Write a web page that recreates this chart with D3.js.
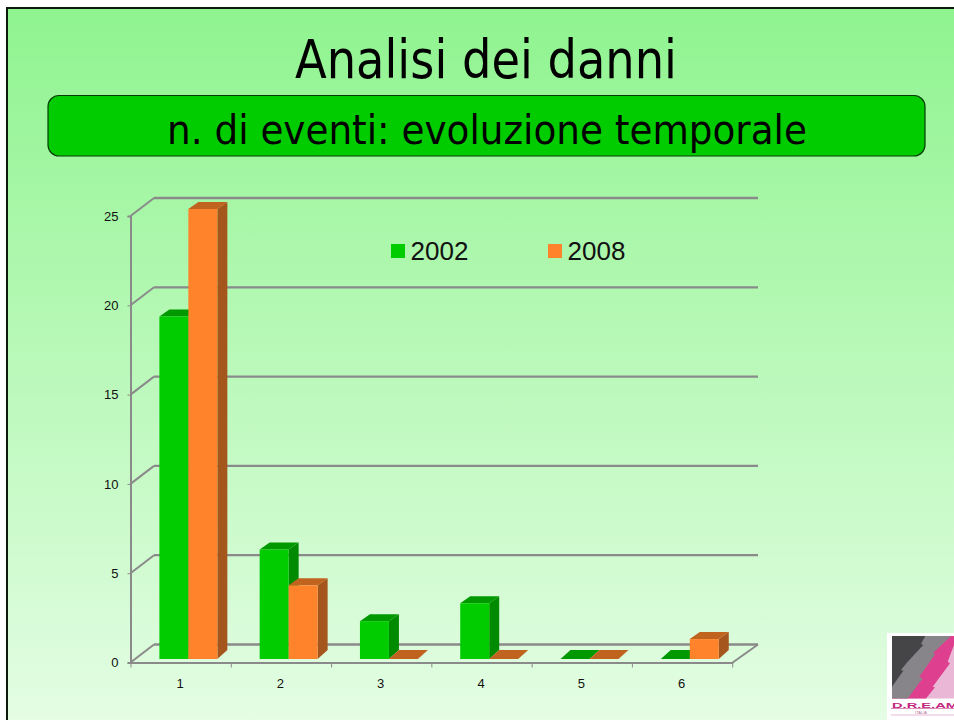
<!DOCTYPE html>
<html>
<head>
<meta charset="utf-8">
<script src="https://cdn.jsdelivr.net/npm/d3@7"></script>
<style>
  html, body { margin: 0; padding: 0; background: #fff; overflow: hidden; }
  svg { display: block; }
  .tick text { font-family: "Liberation Sans", sans-serif; font-size: 13px; fill: #111; }
</style>
</head>
<body>
<div id="chart"></div>
<script>
// chart data
var categories = ["1", "2", "3", "4", "5", "6"];
var seriesNames = ["2002", "2008"];
var values2002 = [19, 6, 2, 3, 0, 0];
var values2008 = [25, 4, 0, 0, 0, 1];
var yTicks = [0, 5, 10, 15, 20, 25];
var titleText = "Analisi dei danni";
var subtitleText = "n. di eventi: evoluzione temporale";

var colors = {
  "2002": { front: "#00cc00", top: "#009a00", side: "#008a00" },
  "2008": { front: "#ff832a", top: "#c0631f", side: "#a5561c" }
};
var gridColor = "#8a8a8a";

var svg = d3.select("#chart").append("svg")
  .attr("width", 954)
  .attr("height", 720);

// slide background
var grad = svg.append("defs").append("linearGradient")
  .attr("id", "bg")
  .attr("x1", 0).attr("y1", 0).attr("x2", 0).attr("y2", 1);
grad.append("stop").attr("offset", "0%").attr("stop-color", "#8ff48f");
grad.append("stop").attr("offset", "100%").attr("stop-color", "#e6fde6");

svg.append("rect")
  .attr("x", 7).attr("y", 8)
  .attr("width", 960).attr("height", 730)
  .attr("fill", "url(#bg)")
  .attr("stroke", "#0c1a0c")
  .attr("stroke-width", 2);

// title and subtitle box
svg.append("text")
  .attr("x", 486).attr("y", 77.5)
  .attr("text-anchor", "middle")
  .attr("textLength", 382)
  .attr("lengthAdjust", "spacingAndGlyphs")
  .style("font-family", "'DejaVu Sans Condensed', 'DejaVu Sans', sans-serif")
  .style("font-stretch", "condensed")
  .style("font-size", "54px")
  .text(titleText);

svg.append("rect")
  .attr("x", 48).attr("y", 95.5)
  .attr("width", 877).attr("height", 60.5)
  .attr("rx", 11)
  .attr("fill", "#00cc00")
  .attr("stroke", "#063d06")
  .attr("stroke-width", 1.2);

svg.append("text")
  .attr("x", 487).attr("y", 143.5)
  .attr("text-anchor", "middle")
  .style("font-family", "'DejaVu Sans Condensed', 'DejaVu Sans', sans-serif")
  .style("font-stretch", "condensed")
  .style("font-size", "41.5px")
  .text(subtitleText);

// scales: y is the front axis, yBar the bars which stand a bit inside the floor
var x = d3.scaleBand().domain(categories).range([131, 732.7]);
var y = d3.scaleLinear().domain([0, 25]).range([662.5, 216]);
var yBar = d3.scaleLinear().domain([0, 25]).range([657, 209]);
var floorY = 659;
var xSeries = d3.scaleBand().domain(seriesNames)
  .range([x.step() * 0.283, x.step() * 0.861]);

var wallDx = 24, wallDy = -18;
var barDx = 10, barTopDy = 7, baseDy = 9;

function barTop(d) { return d.v > 0 ? yBar(d.v) : floorY; }

// back wall grid lines and left wall steps
var grid = svg.append("g");
grid.selectAll("line.back")
  .data(yTicks)
  .enter().append("line")
  .attr("class", "back")
  .attr("x1", 130 + wallDx)
  .attr("x2", 758)
  .attr("y1", function(d) { return y(d) + wallDy; })
  .attr("y2", function(d) { return y(d) + wallDy; })
  .attr("stroke", gridColor)
  .attr("stroke-width", 2.3);

grid.selectAll("line.side")
  .data(yTicks)
  .enter().append("line")
  .attr("class", "side")
  .attr("x1", 130.5)
  .attr("x2", 130 + wallDx)
  .attr("y1", function(d) { return y(d); })
  .attr("y2", function(d) { return y(d) + wallDy; })
  .attr("stroke", gridColor)
  .attr("stroke-width", 2);

// right edge of the floor
grid.append("line")
  .attr("x1", 732.7).attr("y1", y(0))
  .attr("x2", 758).attr("y2", y(0) + wallDy)
  .attr("stroke", gridColor)
  .attr("stroke-width", 2);

// axes
var yAxis = d3.axisLeft(y).tickValues(yTicks).tickSize(3).tickPadding(9);
var gy = svg.append("g").attr("transform", "translate(130.5,0)").call(yAxis);
gy.select(".domain").attr("stroke", gridColor).attr("stroke-width", 2);
gy.selectAll(".tick line").attr("stroke", gridColor);

var xAxis = d3.axisBottom(x).tickSize(0).tickPadding(16);
var gx = svg.append("g").attr("transform", "translate(0,662.5)").call(xAxis);
gx.select(".domain").attr("stroke", gridColor).attr("stroke-width", 2);
gx.selectAll(".tick text").attr("dx", -1);

// tick marks sit between the categories
gx.selectAll("line.edge")
  .data(d3.range(categories.length + 1))
  .enter().append("line")
  .attr("class", "edge")
  .attr("x1", function(i) { return 131 + i * x.step(); })
  .attr("x2", function(i) { return 131 + i * x.step(); })
  .attr("y1", 0).attr("y2", 5)
  .attr("stroke", gridColor);

// 3d bars, one series after the other so 2008 covers the side of 2002
var allValues = { "2002": values2002, "2008": values2008 };
seriesNames.forEach(function(name) {
  var c = colors[name];
  var g = svg.append("g").attr("class", "series");
  var rows = categories.map(function(cat, i) {
    return { cat: cat, v: allValues[name][i] };
  });
  var w = xSeries.bandwidth();

  function left(d) { return x(d.cat) + xSeries(name); }
  function topDy(d) { return d.v > 0 ? barTopDy : baseDy; }

  g.selectAll("path.side")
    .data(rows.filter(function(d) { return d.v > 0; }))
    .enter().append("path")
    .attr("class", "side")
    .attr("fill", c.side)
    .attr("d", function(d) {
      var x1 = left(d) + w, yt = barTop(d);
      return "M" + x1 + "," + yt + "L" + (x1 + barDx) + "," + (yt - topDy(d)) +
        "L" + (x1 + barDx) + "," + (floorY - baseDy) + "L" + x1 + "," + floorY + "Z";
    });

  g.selectAll("path.top")
    .data(rows)
    .enter().append("path")
    .attr("class", "top")
    .attr("fill", c.top)
    .attr("d", function(d) {
      var x0 = left(d), yt = barTop(d);
      return "M" + x0 + "," + yt + "L" + (x0 + barDx) + "," + (yt - topDy(d)) +
        "L" + (x0 + w + barDx) + "," + (yt - topDy(d)) + "L" + (x0 + w) + "," + yt + "Z";
    });

  g.selectAll("rect.front")
    .data(rows.filter(function(d) { return d.v > 0; }))
    .enter().append("rect")
    .attr("class", "front")
    .attr("x", left)
    .attr("y", barTop)
    .attr("width", w)
    .attr("height", function(d) { return floorY - barTop(d); })
    .attr("fill", c.front);
});

// legend
var legendX = d3.scaleOrdinal().domain(seriesNames).range([391, 548]);
var legend = svg.append("g").selectAll("g")
  .data(seriesNames)
  .enter().append("g")
  .attr("transform", function(d) { return "translate(" + legendX(d) + ",244)"; });
legend.append("rect")
  .attr("width", 14).attr("height", 14)
  .attr("fill", function(d) { return colors[d].front; });
legend.append("text")
  .attr("x", 19.5).attr("y", 16)
  .style("font-family", "'Liberation Sans', sans-serif")
  .style("font-size", "26px")
  .attr("fill", "#111")
  .text(function(d) { return d; });

// logo in the corner
var logo = svg.append("g");
logo.append("rect")
  .attr("x", 887).attr("y", 633).attr("width", 70).attr("height", 90).attr("fill", "#fff");
logo.append("rect")
  .attr("x", 892).attr("y", 636).attr("width", 64).attr("height", 62.5).attr("fill", "#eab8d6");
logo.append("path").attr("fill", "#de3f8e")
  .attr("d", "M892,636L954,636L954,645L947.7,661.7L950,663.3L932.7,686.7L935,687.3L926,698.5L892,698.5Z");
logo.append("path").attr("fill", "#87858a")
  .attr("d", "M892,636L951,636L932.7,653.3L935.3,654L919.3,676.7L922.7,678.3L907.7,698.5L892,698.5Z");
logo.append("path").attr("fill", "#454547")
  .attr("d", "M892,636L925.3,636L921,644L923.3,645L907.7,661.7L901,670L903.3,670.7L892,686.7Z");
logo.append("text")
  .attr("x", 892).attr("y", 707.5)
  .attr("fill", "#c2257f")
  .attr("textLength", 66)
  .attr("lengthAdjust", "spacingAndGlyphs")
  .style("font-family", "'Liberation Sans', sans-serif")
  .style("font-size", "7.5px")
  .style("font-weight", "bold")
  .text("D.R.E.AM");
logo.append("line")
  .attr("x1", 891).attr("x2", 956).attr("y1", 708.5).attr("y2", 708.5)
  .attr("stroke", "#e08ab8");
logo.append("text")
  .attr("x", 921).attr("y", 713.5)
  .attr("text-anchor", "middle")
  .attr("fill", "#b0709a")
  .style("font-family", "'Liberation Sans', sans-serif")
  .style("font-size", "4px")
  .text("ITALIA");
logo.append("line")
  .attr("x1", 891).attr("x2", 956).attr("y1", 715).attr("y2", 715)
  .attr("stroke", "#eab8d6");
</script>
</body>
</html>
